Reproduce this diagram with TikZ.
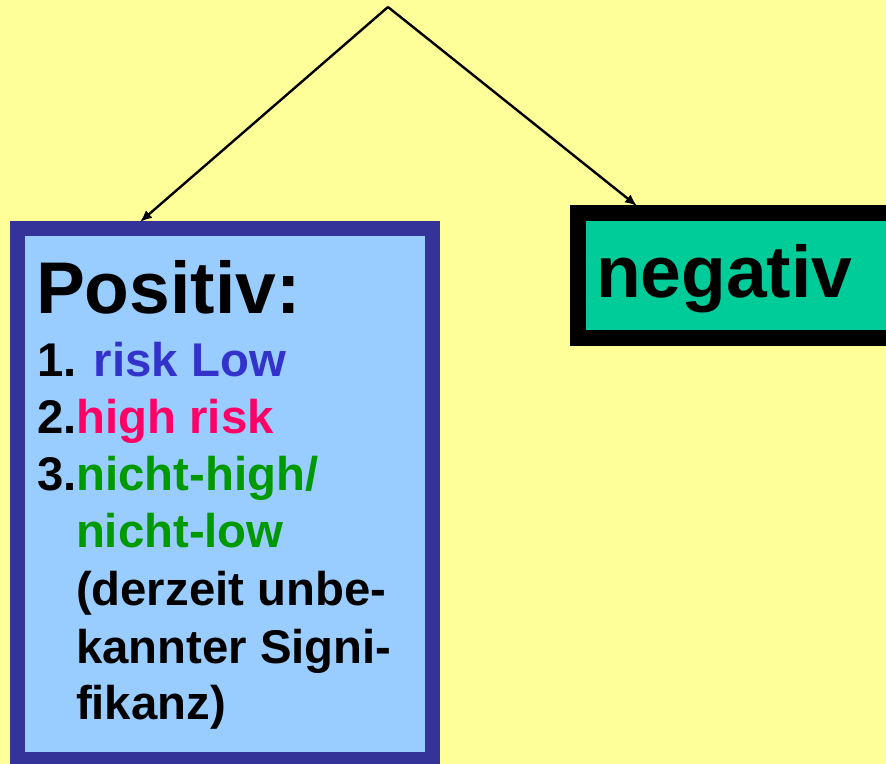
\documentclass[tikz,border=0pt]{standalone}
\usepackage{fontspec}
\setmainfont{Liberation Sans}
\usetikzlibrary{arrows.meta}
\definecolor{bgyellow}{HTML}{FFFF99}
\definecolor{boxblue}{HTML}{99CCFF}
\definecolor{borderblue}{HTML}{333399}
\definecolor{boxgreen}{HTML}{00CC99}
\definecolor{txtblue}{HTML}{3333CC}
\definecolor{txtpink}{HTML}{FF0066}
\definecolor{txtgreen}{HTML}{009900}
\begin{document}
\begin{tikzpicture}[x=1bp,y=-1bp,
  txt/.style={anchor=base west,inner sep=0pt,outer sep=0pt,font=\bfseries\fontsize{47.5}{57}\selectfont},
  big/.style={anchor=base west,inner sep=0pt,outer sep=0pt,font=\bfseries\fontsize{73.5}{80}\selectfont},
  conn/.style={line width=2.4bp,-{Latex[length=12bp,width=10bp]}}]
\fill[bgyellow] (0,0) rectangle (886,764);
\useasboundingbox (0,0) rectangle (886,764);
\node[draw=borderblue,fill=boxblue,line width=15bp,minimum width=415bp,minimum height=531bp,anchor=north west,inner sep=0pt] (pos) at (10,221) {};
\node[draw=black,fill=boxgreen,line width=16bp,minimum width=320bp,minimum height=125bp,anchor=north west,inner sep=0pt] (neg) at (570,205) {};
\coordinate (apex) at (388,7);
\coordinate (tipL) at (140,222);
\coordinate (tipR) at (637,206);
\draw[conn] (apex) -- (tipL);
\draw[conn] (apex) -- (tipR);
\node[big] (ptitle) at (36,313) {Positiv:};
\node[big] (ntitle) at (596,297) {negativ};
\node[txt] (l1) at (37,376) {1. \textcolor{txtblue}{risk Low}};
\node[txt] (l2) at (37,433) {2.\textcolor{txtpink}{high risk}};
\node[txt] (l3) at (37,490) {3.\textcolor{txtgreen}{nicht-high/}};
\node[txt,text=txtgreen] (l4) at (76,547) {nicht-low};
\node[txt] (l5) at (76,605) {(derzeit unbe-};
\node[txt] (l6) at (76,663) {kannter Signi-};
\node[txt] (l7) at (76,719) {fikanz)};
\end{tikzpicture}
\end{document}
